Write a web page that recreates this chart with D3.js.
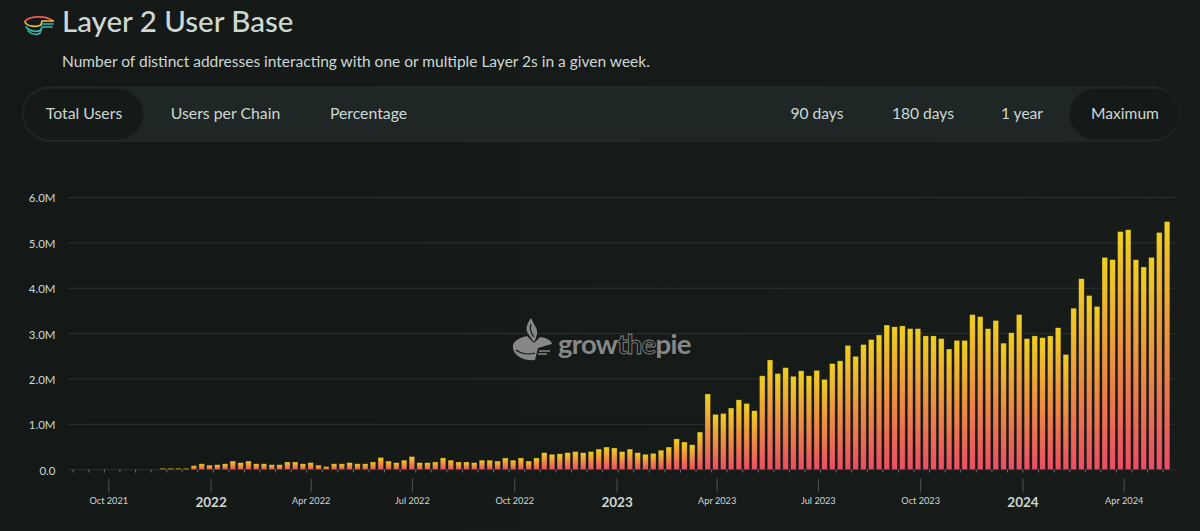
<!DOCTYPE html>
<html>
<head>
<meta charset="utf-8">
<script src="https://cdn.jsdelivr.net/npm/d3@7"></script>
<style>
  html, body { margin: 0; padding: 0; background: #151918; overflow: hidden; }
  svg { display: block; font-family: Lato, "Open Sans", sans-serif; }
</style>
</head>
<body>
<svg id="chart" width="1200" height="531"></svg>
<script>
// weekly users in millions, first week starts on monday 2021-08-30
const firstWeek = '2021-08-30';
const weeklyUsers = [
  0, 0, 0, 0, 0, 0, 0, 0, 0, 0, 0,
  .03, .03, .03, .03, .09, .13, .10, .11, .13, .19, .155, .19, .13, .13, .11, .11,
  .17, .17, .13, .155, .10, .07, .13, .13, .155, .13, .13, .17, .27, .19, .155,
  .21, .29, .155, .155, .17, .26, .21, .17, .17, .155, .21, .21, .19, .26, .21, .26, .19, .26,
  .375, .34, .35, .375, .40, .375, .40, .455, .50, .48, .40, .455, .375, .34, .36, .43, .50, .68,
  .61, .55, .83, 1.67, 1.22, 1.24, 1.36, 1.54, 1.46, 1.30, 2.07, 2.42, 2.12, 2.25, 2.06, 2.18,
  2.07, 2.19, 1.99, 2.34, 2.40, 2.74, 2.50, 2.76, 2.87, 2.97, 3.19, 3.15, 3.17, 3.11, 3.11, 2.95,
  2.95, 2.89, 2.66, 2.85, 2.85, 3.42, 3.375, 3.11, 3.29, 2.79, 3.02, 3.42, 2.89, 2.95, 2.91, 2.95,
  3.13, 2.54, 3.56, 4.21, 3.84, 3.60, 4.68, 4.63, 5.25, 5.29, 4.63, 4.47, 4.68, 5.23, 5.47
];

const yTicks = [0, 1, 2, 3, 4, 5, 6];
const xTickDates = ['2021-10-01', '2022-01-01', '2022-04-01', '2022-07-01', '2022-10-01', '2023-01-01',
  '2023-04-01', '2023-07-01', '2023-10-01', '2024-01-01', '2024-04-01'];
const xTickLabels = ['Oct 2021', '2022', 'Apr 2022', 'Jul 2022', 'Oct 2022', '2023',
  'Apr 2023', 'Jul 2023', 'Oct 2023', '2024', 'Apr 2024'];
const metricTabs = ['Total Users', 'Users per Chain', 'Percentage'];
const rangeTabs = ['90 days', '180 days', '1 year', 'Maximum'];

const DAY = 24 * 3600 * 1000;
const svg = d3.select('#chart');

const x = d3.scaleUtc()
  .domain([new Date('2022-01-01'), new Date('2024-04-01')])
  .range([210.6, 1123.7]);
const y = d3.scaleLinear().domain([0, 6]).range([469.7, 197.5]);

const weeks = weeklyUsers.map((v, i) => new Date(+new Date(firstWeek) + i * 7 * DAY));

// градиент у каждого столбика свой
const defs = svg.append('defs');
const grad = defs.append('linearGradient').attr('id', 'barFill')
  .attr('x1', 0).attr('y1', 0).attr('x2', 0).attr('y2', 1);
grad.append('stop').attr('offset', '0%').attr('stop-color', '#efd021');
grad.append('stop').attr('offset', '100%').attr('stop-color', '#ea4d64');

const bgGrad = defs.append('linearGradient').attr('id', 'pageBg')
  .attr('x1', 0).attr('y1', 0).attr('x2', 1).attr('y2', 0);
bgGrad.append('stop').attr('offset', '0%').attr('stop-color', '#141817');
bgGrad.append('stop').attr('offset', '100%').attr('stop-color', '#171c1b');
svg.append('rect').attr('width', 1200).attr('height', 531).attr('fill', 'url(#pageBg)');

// заголовок
const logo = svg.append('g').attr('fill', 'none').attr('stroke-width', 1.7).attr('stroke-linecap', 'round');
logo.append('path').attr('d', 'M25 21 C30 16 46 15 53 21').attr('stroke', '#ee5a52');
logo.append('path').attr('d', 'M25 22 C27 27 37 27 41 25 L42 21 L53 21').attr('stroke', '#e8c33c');
logo.append('path').attr('d', 'M26 27 C30 32 38 32 41 30 L42 27 L52 27').attr('stroke', '#36b4ad');
logo.append('path').attr('d', 'M28 31 C32 35 38 35 40 33 L41 29').attr('stroke', '#36b4ad');
logo.append('path').attr('d', 'M43 24 L53 24').attr('stroke', '#36b4ad');

svg.append('text').attr('x', 62).attr('y', 32).attr('font-size', 29.5).attr('font-weight', 500)
  .attr('fill', '#cdd8d3').text('Layer 2 User Base');
svg.append('text').attr('x', 62).attr('y', 67).attr('font-size', 15.5)
  .attr('fill', '#cdd8d3').text('Number of distinct addresses interacting with one or multiple Layer 2s in a given week.');

// панель с кнопками
svg.append('rect').attr('x', 22).attr('y', 86).attr('width', 1158).attr('height', 56).attr('rx', 28)
  .attr('fill', '#1f2726');
svg.append('rect').attr('x', 23.5).attr('y', 88.5).attr('width', 120).attr('height', 51).attr('rx', 25.5)
  .attr('fill', '#151a19').attr('stroke', '#1c2322');
svg.append('rect').attr('x', 1069.5).attr('y', 88.5).attr('width', 110).attr('height', 51).attr('rx', 25.5)
  .attr('fill', '#151a19').attr('stroke', '#1c2322');

const metricX = [84, 225.5, 368.5];
svg.selectAll('.metric').data(metricTabs).enter().append('text')
  .attr('class', 'metric').attr('x', (d, i) => metricX[i]).attr('y', 119)
  .attr('text-anchor', 'middle').attr('font-size', 15.8).attr('fill', '#cdd8d3').text(d => d);

const rangeX = [817, 923, 1022, 1125];
svg.selectAll('.range').data(rangeTabs).enter().append('text')
  .attr('class', 'range').attr('x', (d, i) => rangeX[i]).attr('y', 119)
  .attr('text-anchor', 'middle').attr('font-size', 15.6).attr('fill', '#cdd8d3').text(d => d);

// сетка
svg.append('g').selectAll('line').data(yTicks).enter().append('line')
  .attr('x1', 68).attr('x2', 1175)
  .attr('y1', d => y(d)).attr('y2', d => y(d))
  .attr('stroke', '#2c3231').attr('stroke-width', 1);

// водяной знак
const mark = svg.append('g').attr('fill', '#858887');
mark.append('path').attr('d', 'M513 345 C514 340 522 337 527 336 L534 343 L540 337 C547 338 552 341 552 344 L538 348 L535 360 C525 361 515 357 513 349 Z');
mark.append('path').attr('d', 'M516 350 C521 354 529 355 535 353').attr('fill', 'none').attr('stroke', '#151918').attr('stroke-width', 1.2);
mark.append('path').attr('d', 'M539 351 L550 351 M538 354 L547 354').attr('stroke', '#858887').attr('stroke-width', 1.6);
mark.append('path').attr('d', 'M531 318 C526 325 525 330 529 335 L534 342 C538 335 538 330 535 326 Z');
mark.append('path').attr('d', 'M531 324 C529 329 531 333 534 337').attr('fill', 'none').attr('stroke', '#151918').attr('stroke-width', 1.2);
const markText = mark.append('text').attr('x', 558).attr('y', 354).attr('font-size', 27.5).attr('font-weight', 700)
  .attr('letter-spacing', -0.7);
markText.append('tspan').text('grow');
markText.append('tspan').attr('fill', 'none').attr('stroke', '#858887').attr('stroke-width', .8).text('the');
markText.append('tspan').text('pie');

// столбики: неделя начинается в понедельник, столбик стоит посередине недели
const BAR_WIDTH = 5.6;
svg.append('g').selectAll('rect').data(weeklyUsers).enter().append('rect')
  .attr('x', (d, i) => x(new Date(+weeks[i] + 4 * DAY)) - BAR_WIDTH / 2)
  .attr('y', d => y(d))
  .attr('width', BAR_WIDTH)
  .attr('height', d => y(0) - y(d))
  .attr('fill', 'url(#barFill)')
  .attr('stroke', '#0f0d0d')
  .attr('stroke-opacity', .5)
  .attr('stroke-width', .6);

// ось X: мелкие засечки раз в две недели
const minorAxis = d3.axisBottom(x)
  .tickValues(weeks.filter((d, i) => i % 2 === 0))
  .tickSize(3).tickFormat('');
const minorG = svg.append('g').attr('transform', 'translate(0,469.5)').call(minorAxis);
minorG.select('.domain').remove();
minorG.selectAll('line').attr('stroke', '#6b6f6e');

const majorAxis = d3.axisBottom(x)
  .tickValues(xTickDates.map(d => new Date(d)))
  .tickSize(14).tickPadding(5)
  .tickFormat((d, i) => xTickLabels[i]);
const majorG = svg.append('g').attr('transform', 'translate(0,478.5)').call(majorAxis);
majorG.select('.domain').remove();
majorG.selectAll('line').attr('stroke', '#4d5251');
majorG.selectAll('text')
  .attr('font-family', 'Lato, sans-serif')
  .attr('fill', '#cdd8d3')
  .attr('font-size', (d, i) => xTickLabels[i].length === 4 ? 13.5 : 9.2)
  .attr('font-weight', (d, i) => xTickLabels[i].length === 4 ? 700 : 400);

// ось Y
const yAxis = d3.axisLeft(y).tickValues(yTicks).tickSize(0).tickPadding(0)
  .tickFormat(d => d === 0 ? '0.0' : d.toFixed(1) + 'M');
const yG = svg.append('g').attr('transform', 'translate(55.5,0.8)').call(yAxis);
yG.select('.domain').remove();
yG.selectAll('text')
  .attr('font-family', 'Lato, sans-serif')
  .attr('font-size', 11.5)
  .attr('fill', '#cdd8d3');
</script>
</body>
</html>
